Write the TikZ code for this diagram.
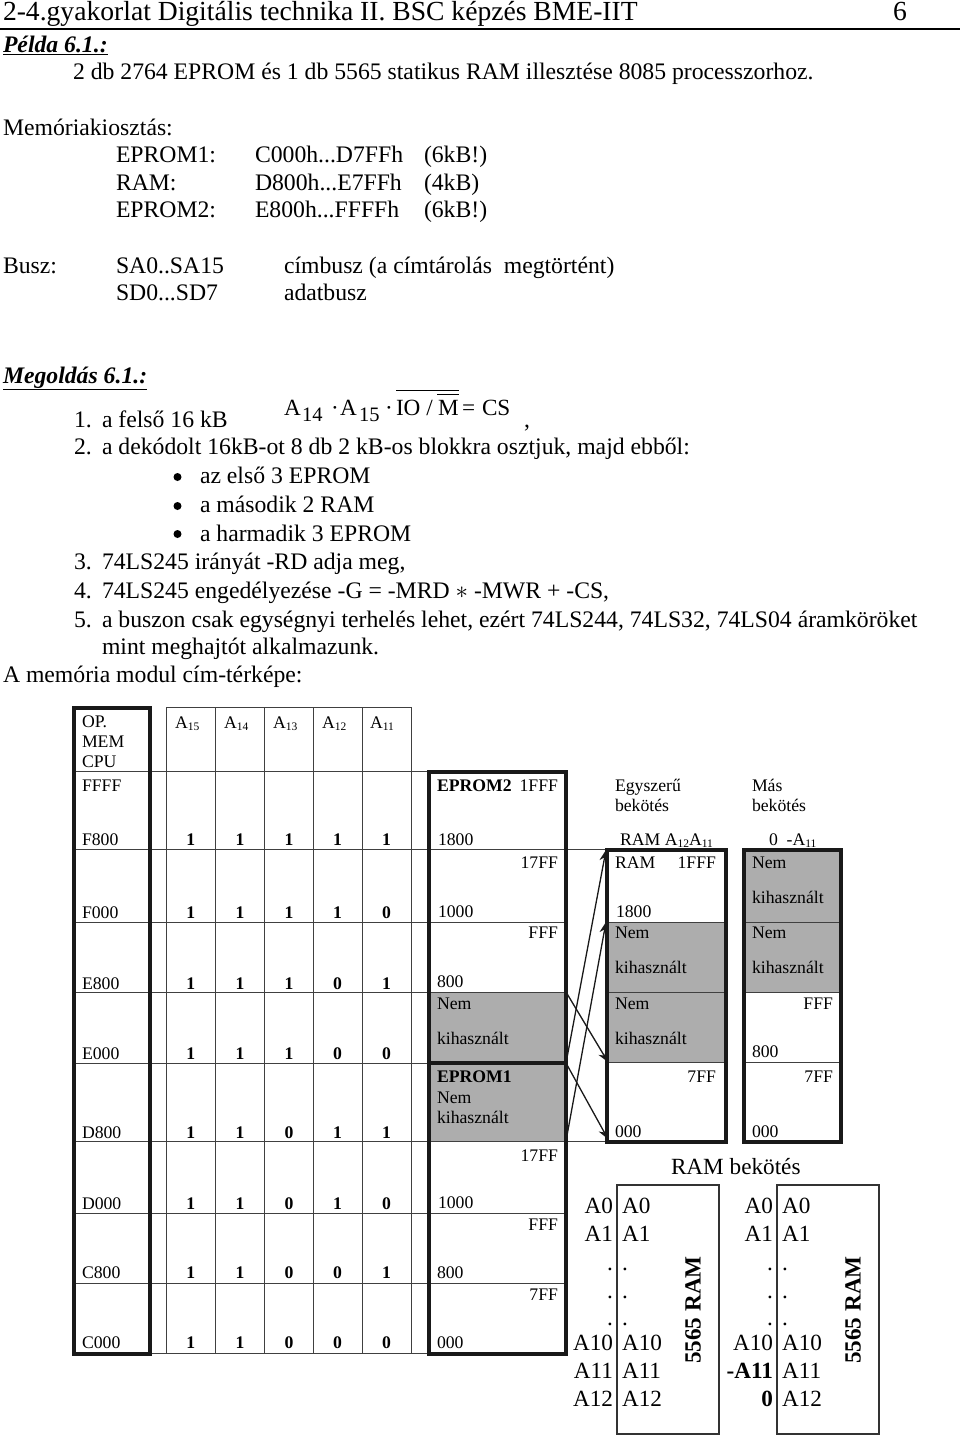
\documentclass[tikz,border=0pt]{standalone}
\usepackage{fontspec}
\setmainfont{Liberation Serif}
\usetikzlibrary{arrows.meta}
\newcounter{nn}
\newcommand{\Tx}[4][body]{\stepcounter{nn}\node[#1] (n\arabic{nn}) at (#2,#3) {#4};}
\newcommand{\Tr}[4][body]{\stepcounter{nn}\node[#1,anchor=base east] (n\arabic{nn}) at (#2,#3) {#4};}
\newcommand{\Bit}[3]{\stepcounter{nn}\node[tbl,anchor=base,font=\fontsize{17.7}{20}\selectfont\bfseries] (n\arabic{nn}) at (#1,#2) {#3};}
\newcommand{\Row}[6]{\Bit{190.75}{#1}{#2}\Bit{240}{#1}{#3}\Bit{289}{#1}{#4}\Bit{337.5}{#1}{#5}\Bit{386.5}{#1}{#6}}
\newcommand{\Sb}[1]{\raisebox{-2.5pt}{\fontsize{11.5}{12}\selectfont #1}}
\tikzset{
  txt/.style={inner sep=0pt,outer sep=0pt,anchor=base west},
  body/.style={txt,font=\fontsize{23.7}{28}\selectfont},
  head/.style={txt,font=\fontsize{27.6}{32}\selectfont},
  tbl/.style={txt,font=\fontsize{17.7}{20}\selectfont},
  big/.style={txt,font=\fontsize{23.2}{27}\selectfont},
  subnum/.style={txt,font=\fontsize{20.5}{24}\selectfont},
  thinline/.style={line width=1pt,draw=black!75},
  thickbox/.style={line width=3.2pt,draw=black!90},
  ramchip/.style={line width=1.5pt,draw=black!80},
  unused/.style={fill=black!32},
  wire/.style={line width=1.3pt,draw=black!90,-{Stealth[length=11pt,width=9pt]}}
}
\begin{document}
\begin{tikzpicture}[x=1pt,y=-1pt]
\useasboundingbox (0,0) rectangle (960,1438);
% heading
\Tx[head]{3}{20}{2-4.gyakorlat Digitális technika II. BSC képzés BME-IIT}
\Tx[head]{893}{20}{6}
\draw[line width=1.4pt] (0,29) -- (960,29);
\Tx{3}{52}{\textbf{\textit{\underline{Példa 6.1.:}}}}
\Tx{73}{79}{2 db 2764 EPROM és 1 db 5565 statikus RAM illesztése 8085 processzorhoz.}
\Tx{3}{135}{Memóriakiosztás:}
\Tx{116}{162}{EPROM1:}\Tx{255}{162}{C000h...D7FFh}\Tx{424}{162}{(6kB!)}
\Tx{116}{190}{RAM:}\Tx{255}{190}{D800h...E7FFh}\Tx{424}{190}{(4kB)}
\Tx{116}{217}{EPROM2:}\Tx{255}{217}{E800h...FFFFh}\Tx{424}{217}{(6kB!)}
\Tx{3}{273}{Busz:}\Tx{116}{273}{SA0..SA15}\Tx{284}{273}{címbusz (a címtárolás\ \ megtörtént)}
\Tx{116}{300}{SD0...SD7}\Tx{284}{300}{adatbusz}
\Tx{3}{383}{\textbf{\textit{\underline{Megoldás 6.1.:}}}}
% list
\Tx{74}{427}{1.}\Tx{102}{427}{a felső 16 kB}
\Tx[big]{284}{415}{A}\Tx[subnum]{302}{421}{14}\Tx[big]{331}{415}{·}
\Tx[big]{340}{415}{A}\Tx[subnum]{359}{421}{15}\Tx[big]{385}{415}{·}
\Tx[big]{396}{415}{IO /}\Tx[big]{438}{415}{M}\Tx[big]{462}{415}{=}\Tx[big]{482}{415}{CS}
\Tx{524}{427}{,}
\draw[line width=1pt] (396,390) -- (459,390);
\draw[line width=1pt] (437,394) -- (459,394);
\Tx{74}{454}{2.}\Tx{102}{454}{a dekódolt 16kB-ot 8 db 2 kB-os blokkra osztjuk, majd ebből:}
\fill (177.5,477) circle (4);\Tx{200}{483}{az első 3 EPROM}
\fill (177.5,506) circle (4);\Tx{200}{512}{a második 2 RAM}
\fill (177.5,534) circle (4);\Tx{200}{541}{a harmadik 3 EPROM}
\Tx{74}{569}{3.}\Tx{102}{569}{74LS245 irányát -RD adja meg,}
\Tx{74}{598}{4.}\Tx{102}{598}{74LS245 engedélyezése -G = -MRD $\ast$ -MWR + -CS,}
\Tx{74}{627}{5.}\Tx{102}{627}{a buszon csak egységnyi terhelés lehet, ezért 74LS244, 74LS32, 74LS04 áramköröket}
\Tx{102}{654}{mint meghajtót alkalmazunk.}
\Tx{3}{682}{A memória modul cím-térképe:}
% grey fields
\fill[unused] (429,992) rectangle (567,1141);
\fill[unused] (607,922) rectangle (726,1062);
\fill[unused] (744,850) rectangle (841,992);
% address table
\foreach \cx in {166.5,215,264.5,313,362,411} \draw[thinline] (\cx,707) -- (\cx,1353);
\draw[thinline] (166.5,707) -- (411,707);
\foreach \ry in {771,922,992,1063,1213,1283,1353} \draw[thinline] (74,\ry) -- (429,\ry);
\foreach \ry in {849,1141} \draw[thinline] (74,\ry) -- (607,\ry);
\foreach \ry in {922,992,1063,1213,1283} \draw[thinline] (429,\ry) -- (567,\ry);
\foreach \ry in {922,992,1062} \draw[thinline] (607,\ry) -- (726,\ry);
\foreach \ry in {922,992,1062} \draw[thinline] (744,\ry) -- (841,\ry);
% boxes
\draw[thickbox] (74,708) rectangle (150,1354);
\draw[thickbox] (429,772) rectangle (566,1354);
\draw[thickbox] (429,1063) -- (566,1063);
\draw[thickbox] (607,850) rectangle (726,1142);
\draw[thickbox] (744,850) rectangle (841,1142);
\draw[ramchip] (617,1185) rectangle (719,1434);
\draw[ramchip] (777,1185) rectangle (879,1434);
% arrows
\coordinate (ep2a) at (566,992);
\coordinate (ep2b) at (566,1063);
\coordinate (ep1b) at (566,1141);
\coordinate (ramA) at (606,850);
\coordinate (ramB) at (606,922);
\coordinate (ramC) at (608,1062);
\coordinate (ramD) at (608,1139);
\draw[wire] (ep2a) -- (ramC);
\draw[wire] (ep2b) -- (ramD);
\draw[wire] (ep2b) -- (ramA);
\draw[wire] (ep1b) -- (ramB);
% table text
\Tx[tbl]{82}{727}{OP.}\Tx[tbl]{82}{747}{MEM}\Tx[tbl]{82}{767}{CPU}
\Tx[tbl]{82}{791}{FFFF}\Tx[tbl]{82}{845}{F800}\Tx[tbl]{82}{918}{F000}\Tx[tbl]{82}{989}{E800}\Tx[tbl]{82}{1059}{E000}
\Tx[tbl]{82}{1138}{D800}\Tx[tbl]{82}{1209}{D000}\Tx[tbl]{82}{1278}{C800}\Tx[tbl]{82}{1348}{C000}
\Tx[tbl]{175}{728}{A\Sb{15}}\Tx[tbl]{224}{728}{A\Sb{14}}\Tx[tbl]{273}{728}{A\Sb{13}}\Tx[tbl]{322}{728}{A\Sb{12}}\Tx[tbl]{370}{728}{A\Sb{11}}
\Row{845}11111
\Row{918}11110
\Row{989}11101
\Row{1059}11100
\Row{1138}11011
\Row{1209}11010
\Row{1278}11001
\Row{1348}11000
% EPROM column
\Tx[tbl]{437}{791}{\textbf{EPROM2}}\Tr[tbl]{558}{791}{1FFF}
\Tx[tbl]{438}{845}{1800}\Tr[tbl]{558}{868}{17FF}
\Tx[tbl]{438}{917}{1000}\Tr[tbl]{558}{938}{FFF}
\Tx[tbl]{437}{987}{800}
\Tx[tbl]{437}{1009}{Nem}\Tx[tbl]{437}{1044}{kihasznált}
\Tx[tbl]{437}{1082}{\textbf{EPROM1}}\Tx[tbl]{437}{1103}{Nem}\Tx[tbl]{437}{1123}{kihasznált}
\Tr[tbl]{558}{1161}{17FF}
\Tx[tbl]{438}{1208}{1000}\Tr[tbl]{558}{1230}{FFF}
\Tx[tbl]{437}{1278}{800}\Tr[tbl]{558}{1300}{7FF}
\Tx[tbl]{437}{1348}{000}
% RAM columns
\Tx[tbl]{615}{791}{Egyszerű}\Tx[tbl]{615}{811}{bekötés}
\Tx[tbl]{752}{791}{Más}\Tx[tbl]{752}{811}{bekötés}
\Tx[tbl]{620}{845}{RAM A\Sb{12}A\Sb{11}}
\Tx[tbl]{769}{845}{0\ \ -A\Sb{11}}
\Tx[tbl]{615}{868}{RAM}\Tr[tbl]{716}{868}{1FFF}
\Tx[tbl]{616}{917}{1800}
\Tx[tbl]{615}{938}{Nem}\Tx[tbl]{615}{973}{kihasznált}
\Tx[tbl]{615}{1009}{Nem}\Tx[tbl]{615}{1044}{kihasznált}
\Tr[tbl]{716}{1082}{7FF}\Tx[tbl]{615}{1137}{000}
\Tx[tbl]{752}{868}{Nem}\Tx[tbl]{752}{903}{kihasznált}
\Tx[tbl]{752}{938}{Nem}\Tx[tbl]{752}{973}{kihasznált}
\Tr[tbl]{833}{1009}{FFF}\Tx[tbl]{752}{1057}{800}
\Tr[tbl]{833}{1082}{7FF}\Tx[tbl]{752}{1137}{000}
\Tx[big]{671}{1174}{RAM bekötés}
% pin labels
\foreach \lab/\ly in {A0/1213,A1/1241,./1270,./1298,./1325,A10/1350,A11/1378,A12/1406}{
  \Tr[big]{613}{\ly}{\lab}
  \Tx[big]{622}{\ly}{\lab}
  \Tx[big]{782}{\ly}{\lab}
}
\foreach \lab/\ly in {A0/1213,A1/1241,./1270,./1298,./1325,A10/1350,\textbf{-A11}/1378,\textbf{0}/1406}{
  \Tr[big]{773}{\ly}{\lab}
}
\node[big,anchor=center,rotate=90,font=\fontsize{23.2}{27}\selectfont\bfseries] (chipA) at (693,1310) {5565 RAM};
\node[big,anchor=center,rotate=90,font=\fontsize{23.2}{27}\selectfont\bfseries] (chipB) at (853,1310) {5565 RAM};
\end{tikzpicture}
\end{document}
